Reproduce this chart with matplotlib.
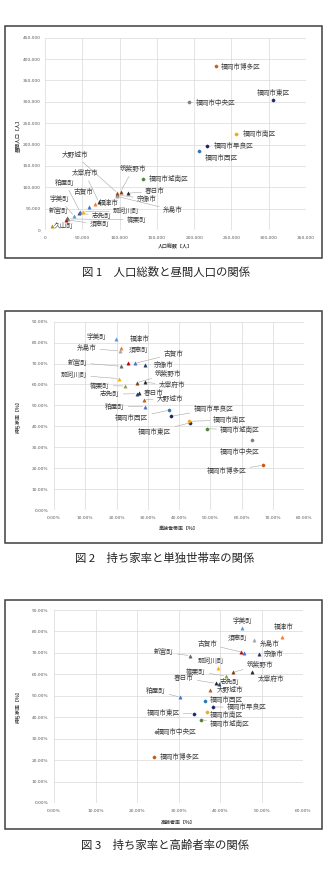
import matplotlib
matplotlib.use("Agg")
import matplotlib.pyplot as plt
from matplotlib.patches import Rectangle
from matplotlib.ticker import FuncFormatter, MultipleLocator
import numpy as np

plt.rcParams['font.family'] = ['Noto Sans CJK JP', 'DejaVu Sans']

# data ------------------------------------------------------------------------
names = ['福岡市東区', '福岡市博多区', '福岡市中央区', '福岡市南区', '福岡市西区',
         '福岡市城南区', '福岡市早良区', '筑紫野市', '春日市', '大野城市', '宗像市',
         '太宰府市', '古賀市', '福津市', '糸島市', '那珂川町', '宇美町', '篠栗町',
         '志免町', '須恵町', '新宮町', '久山町', '粕屋町']
is_ward = [True] * 7 + [False] * 16
colors = ['#1F2A6B', '#C55A11', '#7F7F7F', '#F2A81D', '#2E75B6', '#548235', '#1A2456',
          '#843C0C', '#262626', '#C55A11', '#203864', '#262626', '#4472C4', '#ED7D31',
          '#A5A5A5', '#FFB000', '#5B9BD5', '#8AA84B', '#264478', '#C00000', '#636363',
          '#BF9000', '#4472C4']

# 人口総数 / 昼間人口 [人]
population = [306000, 229000, 193000, 256000, 207000, 131000, 217700, 101500, 111000, 97000,
              97000, 72000, 58600, 67000, 96000, 51000, 39000, 31000, 46000, 28000, 30000,
              9000, 47000]
daytime_pop = [303500, 384000, 299000, 224000, 184000, 119000, 196000, 90000, 86000, 87000,
               82000, 66000, 54600, 62000, 79000, 43000, 33000, 26000, 39000, 24000, 27000,
               10000, 43000]
# 単独世帯率 / 高齢者率 / 持ち家率 [%]
single_rate = [43.6, 66.9, 63.5, 43.2, 36.7, 48.9, 37.5, 26.5, 27.3, 28.8, 29.2, 29.1, 25.9,
               21.4, 21.1, 20.8, 19.9, 22.7, 26.5, 23.8, 21.4, np.nan, 29.0]
elderly_rate = [33.7, 24.0, 24.6, 36.8, 36.5, 35.4, 38.2, 43.1, 39.0, 37.6, 49.4, 47.8, 45.7,
                54.9, 48.3, 39.5, 45.4, 41.4, 39.8, 45.0, 32.8, np.nan, 30.4]
owner_rate = [41.7, 21.4, 33.3, 42.4, 47.7, 38.9, 44.8, 60.9, 55.8, 52.7, 69.5, 61.0, 70.1,
              77.2, 76.0, 62.8, 81.5, 59.3, 55.6, 70.4, 68.7, np.nan, 49.4]

# label placement (data coordinates) -------------------------------------------
lab1 = {'福岡市博多区': (262000, 382000), '福岡市東区': (306000, 321000),
        '福岡市中央区': (229000, 298000), '福岡市南区': (287000, 224000),
        '福岡市早良区': (253000, 196000), '福岡市西区': (237000, 168000),
        '福岡市城南区': (166000, 119000), '大野城市': (40000, 175500),
        '筑紫野市': (118000, 142700), '太宰府市': (53600, 132600), '粕屋町': (26800, 110800),
        '春日市': (147500, 91000), '古賀市': (51400, 89700), '宗像市': (136400, 72500),
        '宇美町': (19200, 72500), '福津市': (86000, 64000), '糸島市': (171000, 46800),
        '新宮町': (17900, 44500), '那珂川町': (108600, 44500), '志免町': (76000, 33500),
        '篠栗町': (123000, 23400), '久山町': (24500, 10000), '須恵町': (72800, 13300)}
lab2 = {'宇美町': (13.7, 82.9), '福津市': (27.5, 81.7), '糸島市': (10.5, 77.3),
        '須恵町': (27.0, 76.5), '古賀市': (38.2, 74.6), '新宮町': (7.5, 70.4),
        '宗像市': (35.2, 69.3), '那珂川町': (6.4, 64.5), '筑紫野市': (36.6, 65.0),
        '篠栗町': (14.7, 59.4), '太宰府市': (37.7, 59.8), '志免町': (17.9, 55.3),
        '春日市': (31.8, 56.1), '大野城市': (37.1, 53.1), '粕屋町': (19.5, 49.4),
        '福岡市西区': (24.9, 43.8), '福岡市早良区': (51.0, 48.3), '福岡市南区': (56.3, 43.0),
        '福岡市東区': (32.3, 37.4), '福岡市城南区': (59.5, 38.2),
        '福岡市中央区': (59.3, 27.6), '福岡市博多区': (55.3, 18.6)}
lab3 = {'宇美町': (45.5, 84.7), '福津市': (55.3, 81.9), '須恵町': (44.2, 76.8),
        '糸島市': (52.0, 74.2), '古賀市': (36.9, 74.2), '宗像市': (53.0, 69.6),
        '新宮町': (26.5, 70.3), '那珂川町': (37.8, 66.4), '筑紫野市': (49.6, 64.4),
        '篠栗町': (34.2, 61.2), '太宰府市': (52.2, 57.7), '春日市': (31.3, 58.2),
        '志免町': (42.3, 56.4), '大野城市': (42.3, 52.6), '粕屋町': (24.5, 52.2),
        '福岡市西区': (41.6, 47.9), '福岡市早良区': (46.4, 44.6), '福岡市東区': (26.3, 41.8),
        '福岡市南区': (41.6, 40.9), '福岡市城南区': (42.4, 36.8),
        '福岡市中央区': (29.6, 33.3), '福岡市博多区': (30.2, 21.3)}

W, H = 329, 881
fig = plt.figure(figsize=(W / 100, H / 100), dpi=100)
fig.patch.set_facecolor('white')


def add_ax(left, top, right, bottom):
    return fig.add_axes([left / W, 1 - bottom / H, (right - left) / W, (bottom - top) / H])


def frame(top, bottom):
    fig.patches.append(Rectangle((5 / W, 1 - bottom / H), 317 / W, (bottom - top) / H,
                                 transform=fig.transFigure, fill=False,
                                 edgecolor='#3F3F3F', lw=1.1))


def style(ax, xmax, xstep, ymax, ystep, xfmt, yfmt, pad_y):
    ax.set_xlim(0, xmax)
    ax.set_ylim(0, ymax)
    ax.xaxis.set_major_locator(MultipleLocator(xstep))
    ax.yaxis.set_major_locator(MultipleLocator(ystep))
    ax.xaxis.set_major_formatter(FuncFormatter(xfmt))
    ax.yaxis.set_major_formatter(FuncFormatter(yfmt))
    for s in ax.spines.values():
        s.set_visible(False)
    ax.grid(True, color='#D9D9D9', lw=0.5)
    ax.set_axisbelow(True)
    ax.tick_params(length=0, labelsize=3.2, labelcolor='#595959', pad=pad_y,
                   labelfontfamily='DejaVu Sans')
    ax.tick_params(axis='x', pad=4)


def scatter_labels(ax, xs, ys, labpos):
    ax.figure.canvas.draw()
    for n, x, y, c, w in zip(names, xs, ys, colors, is_ward):
        if np.isnan(x) or np.isnan(y):
            continue
        ax.plot(x, y, 'o' if w else '^', ms=2.3 if w else 2.4, color=c, mec=c,
                mew=0.3, clip_on=False, zorder=3)
        if n not in labpos:
            continue
        tx, ty = labpos[n]
        p = ax.transData.transform((x, y))
        q = ax.transData.transform((tx, ty))
        far = np.hypot(*(p - q)) > 22
        ax.annotate(n, (x, y), xytext=(tx, ty), textcoords='data', fontsize=4.8,
                    color='#404040', ha='center', va='center', zorder=4,
                    arrowprops=dict(arrowstyle='-', color='#A6A6A6', lw=0.4,
                                    shrinkA=0.5, shrinkB=1.5) if far else None)


comma = lambda v, p: f'{int(v):,}'
pct = lambda v, p: f'{v:.2f}%'

# 図1 ----------------------------------------------------------------------------
frame(26, 258)
ax1 = add_ax(45, 37.7, 306, 230)
style(ax1, 350000, 50000, 450000, 50000, comma, comma, 3)
scatter_labels(ax1, population, daytime_pop, lab1)
fig.text(175.5 / W, 1 - 247 / H, '人口総数【人】', fontsize=3.6, fontweight='bold',
         ha='center', va='center', color='#404040')
fig.text(18 / W, 1 - 134 / H, '昼間人口【人】', fontsize=3.6, fontweight='bold',
         ha='center', va='center', rotation=90, color='#404040')
fig.text(166 / W, 1 - 272 / H, '図 1　人口総数と昼間人口の関係', fontsize=8.2,
         ha='center', va='center', color='#222222')

# 図2 ----------------------------------------------------------------------------
frame(311, 543)
ax2 = add_ax(54, 321.7, 304, 510)
style(ax2, 80, 10, 90, 10, pct, pct, 4)
scatter_labels(ax2, single_rate, owner_rate, lab2)
fig.text(179 / W, 1 - 528 / H, '単独世帯率【%】', fontsize=3.6, fontweight='bold',
         ha='center', va='center', color='#404040')
fig.text(18 / W, 1 - 416 / H, '持ち家率【%】', fontsize=3.6, fontweight='bold',
         ha='center', va='center', rotation=90, color='#404040')
fig.text(165 / W, 1 - 558 / H, '図 2　持ち家率と単独世帯率の関係', fontsize=8.2,
         ha='center', va='center', color='#222222')

# 図3 ----------------------------------------------------------------------------
frame(600, 829)
ax3 = add_ax(54, 610, 303, 803)
style(ax3, 60, 10, 90, 10, pct, pct, 4)
scatter_labels(ax3, elderly_rate, owner_rate, lab3)
fig.text(178.5 / W, 1 - 822 / H, '高齢者率【%】', fontsize=3.6, fontweight='bold',
         ha='center', va='center', color='#404040')
fig.text(18 / W, 1 - 706 / H, '持ち家率【%】', fontsize=3.6, fontweight='bold',
         ha='center', va='center', rotation=90, color='#404040')
fig.text(165 / W, 1 - 845 / H, '図 3　持ち家率と高齢者率の関係', fontsize=8.2,
         ha='center', va='center', color='#222222')

fig.savefig('out.png', dpi=100, facecolor='white')
